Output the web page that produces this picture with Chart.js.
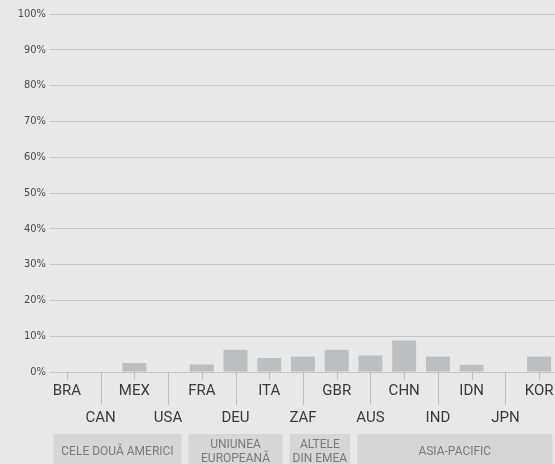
<!DOCTYPE html>
<html>
<head>
<meta charset="utf-8">
<script src="https://cdn.jsdelivr.net/npm/chart.js@4"></script>
<style>
  html, body { margin: 0; padding: 0; background: #e8e8e8; overflow: hidden; }
  #wrap { position: relative; width: 559px; height: 464px; }
</style>
</head>
<body>
<div id="wrap"><canvas id="chart"></canvas></div>
<script>
// Country codes along the x axis
const categories = ['BRA', 'CAN', 'MEX', 'USA', 'FRA', 'DEU', 'ITA', 'ZAF', 'GBR', 'AUS', 'CHN', 'IND', 'IDN', 'JPN', 'KOR'];
// Share per country, in percent
const shares = [0, 0, 2.5, 0, 2.1, 6.2, 3.9, 4.3, 6.2, 4.6, 8.8, 4.3, 2.0, 0, 4.3];
// Region groups: label lines and how many countries each spans
const groupNames = [['CELE DOUĂ AMERICI'], ['UNIUNEA', 'EUROPEANĂ'], ['ALTELE', 'DIN EMEA'], ['ASIA-PACIFIC']];
const groupSizes = [4, 3, 2, 6];
const yTicks = [0, 10, 20, 30, 40, 50, 60, 70, 80, 90, 100];

// Draws the alternating tick lines under the axis and the grey region boxes
const regionPlugin = {
    id: 'regions',
    afterDraw(chart) {
        const ctx = chart.ctx;
        const x = chart.scales.x;
        const bottom = chart.chartArea.bottom;
        const half = (x.getPixelForValue(1) - x.getPixelForValue(0)) / 2;

        ctx.save();
        ctx.strokeStyle = '#bdbdbd';
        ctx.lineWidth = 1;
        categories.forEach((c, i) => {
            const px = Math.round(x.getPixelForValue(i)) + 0.5;
            ctx.beginPath();
            ctx.moveTo(px, bottom);
            ctx.lineTo(px, bottom + (i % 2 ? 33 : 8));
            ctx.stroke();
        });

        let start = 0;
        groupSizes.forEach((n, g) => {
            const left = x.getPixelForValue(start) - half + 3.5;
            const right = x.getPixelForValue(start + n - 1) + half - 3.5;
            const top = bottom + 62;
            ctx.fillStyle = '#d6d6d7';
            ctx.fillRect(left, top, right - left, 40);

            ctx.fillStyle = '#7a7a7a';
            ctx.font = '12px Roboto, sans-serif';
            ctx.textAlign = 'center';
            ctx.textBaseline = 'middle';
            const lines = groupNames[g];
            const lh = 14;
            const cy = top + 18;
            lines.forEach((t, k) => {
                ctx.fillText(t, (left + right) / 2, cy - (lines.length - 1) * lh / 2 + k * lh);
            });
            start += n;
        });
        ctx.restore();
    }
};

new Chart(document.getElementById('chart'), {
    type: 'bar',
    data: {
        labels: categories,
        datasets: [{
            data: shares,
            backgroundColor: '#bdbec0',
            borderWidth: 0,
            barPercentage: 0.71,
            categoryPercentage: 1
        }]
    },
    options: {
        responsive: true,
        maintainAspectRatio: false,
        animation: false,
        layout: { padding: { top: 14, right: 0, left: 0, bottom: 0 } },
        plugins: {
            legend: { display: false },
            tooltip: { enabled: false }
        },
        scales: {
            x: {
                grid: { display: false, drawTicks: false },
                border: { display: false },
                ticks: {
                    autoSkip: false,
                    maxRotation: 0,
                    padding: 5.5,
                    color: '#3a3a3a',
                    font: { family: 'Roboto, sans-serif', size: 15, lineHeight: '27px' },
                    callback: function (value, index) {
                        const label = categories[index];
                        return index % 2 ? ['', label] : label;
                    }
                },
                afterFit(scale) { scale.height = 92; }
            },
            y: {
                min: 0,
                max: 100,
                afterBuildTicks(scale) { scale.ticks = yTicks.map(v => ({ value: v })); },
                grid: { color: '#c6c6c6', lineWidth: 1, drawTicks: false },
                border: { display: false },
                ticks: {
                    padding: 4,
                    color: '#4a4a4a',
                    font: { family: '"Liberation Sans Narrow", "DejaVu Sans Condensed", sans-serif', size: 11 },
                    callback: v => v + '%'
                },
                afterFit(scale) { scale.width = 50; }
            }
        }
    },
    plugins: [regionPlugin]
});
</script>
</body>
</html>
